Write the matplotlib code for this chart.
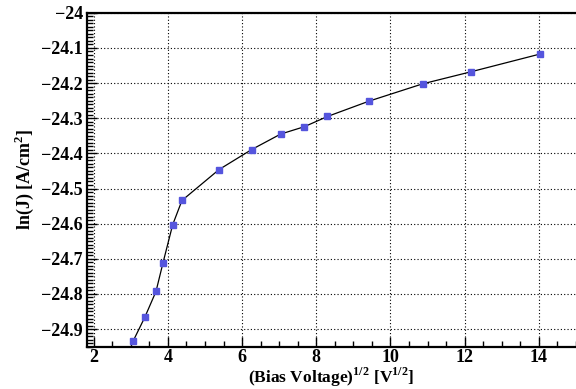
import numpy as np
import matplotlib.pyplot as plt
from matplotlib.ticker import MultipleLocator, FuncFormatter
from matplotlib.font_manager import FontProperties

plt.rcParams['font.family'] = 'Liberation Serif'
plt.rcParams['font.weight'] = 'bold'
plt.rcParams['mathtext.fontset'] = 'custom'
plt.rcParams['mathtext.rm'] = 'Liberation Serif:bold'
plt.rcParams['mathtext.bf'] = 'Liberation Serif:bold'

sqrt_v = [3.06, 3.38, 3.68, 3.87, 4.13, 4.38, 5.38, 6.26, 7.04, 7.68,
          8.30, 9.43, 10.87, 12.16, 14.04]
ln_j = [-24.935, -24.866, -24.793, -24.711, -24.603, -24.534, -24.446,
        -24.389, -24.345, -24.324, -24.295, -24.251, -24.202, -24.168,
        -24.117]

fig = plt.figure(figsize=(5.76, 3.89), dpi=100)
ax = fig.add_axes([0.151, 0.108, 0.849, 0.859])

ax.plot(sqrt_v, ln_j, color='black', lw=0.9, zorder=2)
ax.plot(sqrt_v, ln_j, ls='none', marker='s', ms=4.5, color='#5555dd',
        mec='#5555dd', zorder=3)

ax.set_xlim(1.82, 15.0)
ax.set_ylim(-24.951, -24.0)
ax.xaxis.set_major_locator(MultipleLocator(2))
ax.xaxis.set_minor_locator(MultipleLocator(0.5))
ax.yaxis.set_major_locator(MultipleLocator(0.1))
ax.yaxis.set_minor_locator(MultipleLocator(0.01))
fmt = FuncFormatter(lambda v, p: ('%g' % round(v, 3)).replace('-', '\u2212'))
ax.xaxis.set_major_formatter(fmt)
ax.yaxis.set_major_formatter(fmt)

ax.grid(True, which='major', color='black', ls=(0, (1, 2)), lw=0.8)
ax.tick_params(which='both', direction='in', top=False, right=False,
               labelsize=13, width=1.0)
ax.tick_params(which='major', length=7)
ax.tick_params(which='minor', length=4)
ax.tick_params(axis='y', pad=3)
ax.tick_params(axis='x', pad=1.5)

for s in ['left', 'bottom', 'top']:
    ax.spines[s].set_linewidth(1.6)
ax.spines['right'].set_visible(False)

ax.set_xlabel(r'(Bias Voltage)$^{\mathbf{1/2}}$ [V$^{\mathbf{1/2}}$]',
              fontsize=12.5, fontweight='bold', labelpad=0)
ax.set_ylabel(r'ln(J) [A/cm$^{\mathbf{2}}$]', fontsize=13,
              fontweight='bold', labelpad=4)

fig.canvas.draw()
bold = FontProperties(family='Liberation Serif', weight='bold', size=13)
for tk in ax.xaxis.get_major_ticks() + ax.yaxis.get_major_ticks():
    tk.label1.set_fontproperties(bold)

fig.savefig('out.png', dpi=100)
